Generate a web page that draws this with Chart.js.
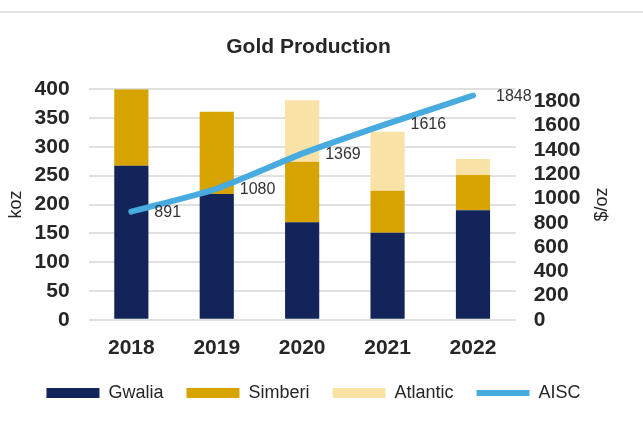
<!DOCTYPE html>
<html>
<head>
<meta charset="utf-8">
<title>Gold Production</title>
<script src="https://cdn.jsdelivr.net/npm/chart.js@4.4.1/dist/chart.umd.min.js"></script>
<style>
  body { margin: 0; background: #fff; }
  #wrap { position: relative; width: 643px; height: 421px; }
  #rule { position: absolute; top: 11px; left: 0; width: 643px; height: 2px; background: #e2e2e2; }
</style>
</head>
<body>
<div id="wrap">
  <div id="rule"></div>
  <canvas id="goldChart"></canvas>
</div>
<script>
// chart data
var years = ["2018", "2019", "2020", "2021", "2022"];
var gwalia = [267, 218, 169, 151, 190];
var simberi = [133, 143, 105, 73, 61];
var atlantic = [null, null, 107, 102, 28];
var aisc = [891, 1080, 1369, 1616, 1848];
var aiscTicks = [0, 200, 400, 600, 800, 1000, 1200, 1400, 1600, 1800];

var FONT = "'Liberation Sans', Arial, sans-serif";
var TEXT = "#262626";

// value labels next to the AISC line points
var lineLabels = {
    id: "lineLabels",
    afterDatasetsDraw: function(chart) {
        var ctx = chart.ctx;
        var meta = chart.getDatasetMeta(3);
        ctx.save();
        ctx.font = "16px " + FONT;
        ctx.fillStyle = "#333333";
        ctx.textAlign = "left";
        ctx.textBaseline = "middle";
        meta.data.forEach(function(pt, i) {
            ctx.fillText(aisc[i], pt.x + 23, pt.y + 1);
        });
        ctx.restore();
    }
};

// right axis title reads bottom-to-top like the left one
var rightTitle = {
    id: "rightTitle",
    afterDraw: function(chart) {
        var s = chart.scales.y1;
        var ctx = chart.ctx;
        var area = chart.chartArea;
        ctx.save();
        ctx.translate(s.right - 30 - 10.8, (area.top + area.bottom) / 2);
        ctx.rotate(-Math.PI / 2);
        ctx.font = "18px " + FONT;
        ctx.fillStyle = TEXT;
        ctx.textAlign = "center";
        ctx.textBaseline = "middle";
        ctx.fillText("$/oz", 0, 0);
        ctx.restore();
    }
};

// title and legend sit a bit left of centre in the original
var nudge = {
    id: "nudge",
    afterLayout: function(chart) {
        chart.titleBlock.left -= 13;
        chart.titleBlock.right -= 13;
        chart.legend.left -= 8;
        chart.legend.right -= 8;
    }
};

function chart() {
    var ctx = document.getElementById("goldChart").getContext("2d");
    var goldChart = new Chart(ctx, {
        type: "bar",
        data: {
            labels: years,
            datasets: [{
                label: "Gwalia",
                data: gwalia,
                backgroundColor: "#13245a",
                pointStyle: "rect",
                yAxisID: "y"
            }, {
                label: "Simberi",
                data: simberi,
                backgroundColor: "#d6a300",
                pointStyle: "rect",
                yAxisID: "y"
            }, {
                label: "Atlantic",
                data: atlantic,
                backgroundColor: "#f8e2a6",
                pointStyle: "rect",
                yAxisID: "y"
            }, {
                type: "line",
                label: "AISC",
                data: aisc,
                borderColor: "#48abdf",
                backgroundColor: "#48abdf",
                borderWidth: 6,
                borderCapStyle: "round",
                pointRadius: 0,
                pointStyle: "line",
                tension: 0.2,
                order: -1,
                yAxisID: "y1"
            }]
        },
        options: {
            responsive: true,
            maintainAspectRatio: false,
            animation: false,
            layout: { padding: { bottom: 9 } },
            datasets: {
                bar: { categoryPercentage: 1, barPercentage: 0.4 }
            },
            plugins: {
                tooltip: { enabled: false },
                title: {
                    display: true,
                    text: "Gold Production",
                    color: TEXT,
                    font: { family: FONT, size: 21, weight: "bold" },
                    padding: { top: 35, bottom: 29 }
                },
                legend: {
                    position: "bottom",
                    labels: {
                        usePointStyle: true,
                        pointStyleWidth: 53,
                        boxHeight: 10,
                        padding: 23,
                        color: TEXT,
                        font: { family: FONT, size: 18 },
                        sort: function(a, b) { return a.datasetIndex - b.datasetIndex; }
                    }
                }
            },
            scales: {
                x: {
                    stacked: true,
                    grid: { display: false, tickLength: 16 },
                    border: { display: false },
                    ticks: {
                        color: TEXT,
                        padding: 0,
                        font: { family: FONT, size: 21, weight: "bold" }
                    }
                },
                y: {
                    stacked: true,
                    position: "left",
                    min: 0,
                    max: 400,
                    grid: { color: "#e0e0e0", lineWidth: 2, tickLength: 19, tickColor: "rgba(0,0,0,0)" },
                    border: { display: false },
                    ticks: {
                        stepSize: 50,
                        color: TEXT,
                        padding: 0,
                        font: { family: FONT, size: 21, weight: "bold" }
                    },
                    title: {
                        display: true,
                        text: "koz",
                        color: TEXT,
                        font: { family: FONT, size: 18 },
                        padding: { top: 5, bottom: 8 }
                    }
                },
                y1: {
                    position: "right",
                    min: 0,
                    max: 1900,
                    grid: { display: false, tickLength: 18 },
                    border: { display: false },
                    afterBuildTicks: function(scale) {
                        scale.ticks = aiscTicks.map(function(v) { return { value: v }; });
                    },
                    ticks: {
                        autoSkip: false,
                        color: TEXT,
                        padding: 0,
                        font: { family: FONT, size: 21, weight: "bold" },
                        callback: function(v) { return String(v); }
                    },
                    title: {
                        // space only, text drawn by rightTitle plugin
                        display: true,
                        text: "$/oz",
                        color: "rgba(0,0,0,0)",
                        font: { family: FONT, size: 18 },
                        padding: { top: 30, bottom: 11 }
                    }
                }
            }
        },
        plugins: [lineLabels, rightTitle, nudge]
    });
    return goldChart;
}

chart();
</script>
</body>
</html>
